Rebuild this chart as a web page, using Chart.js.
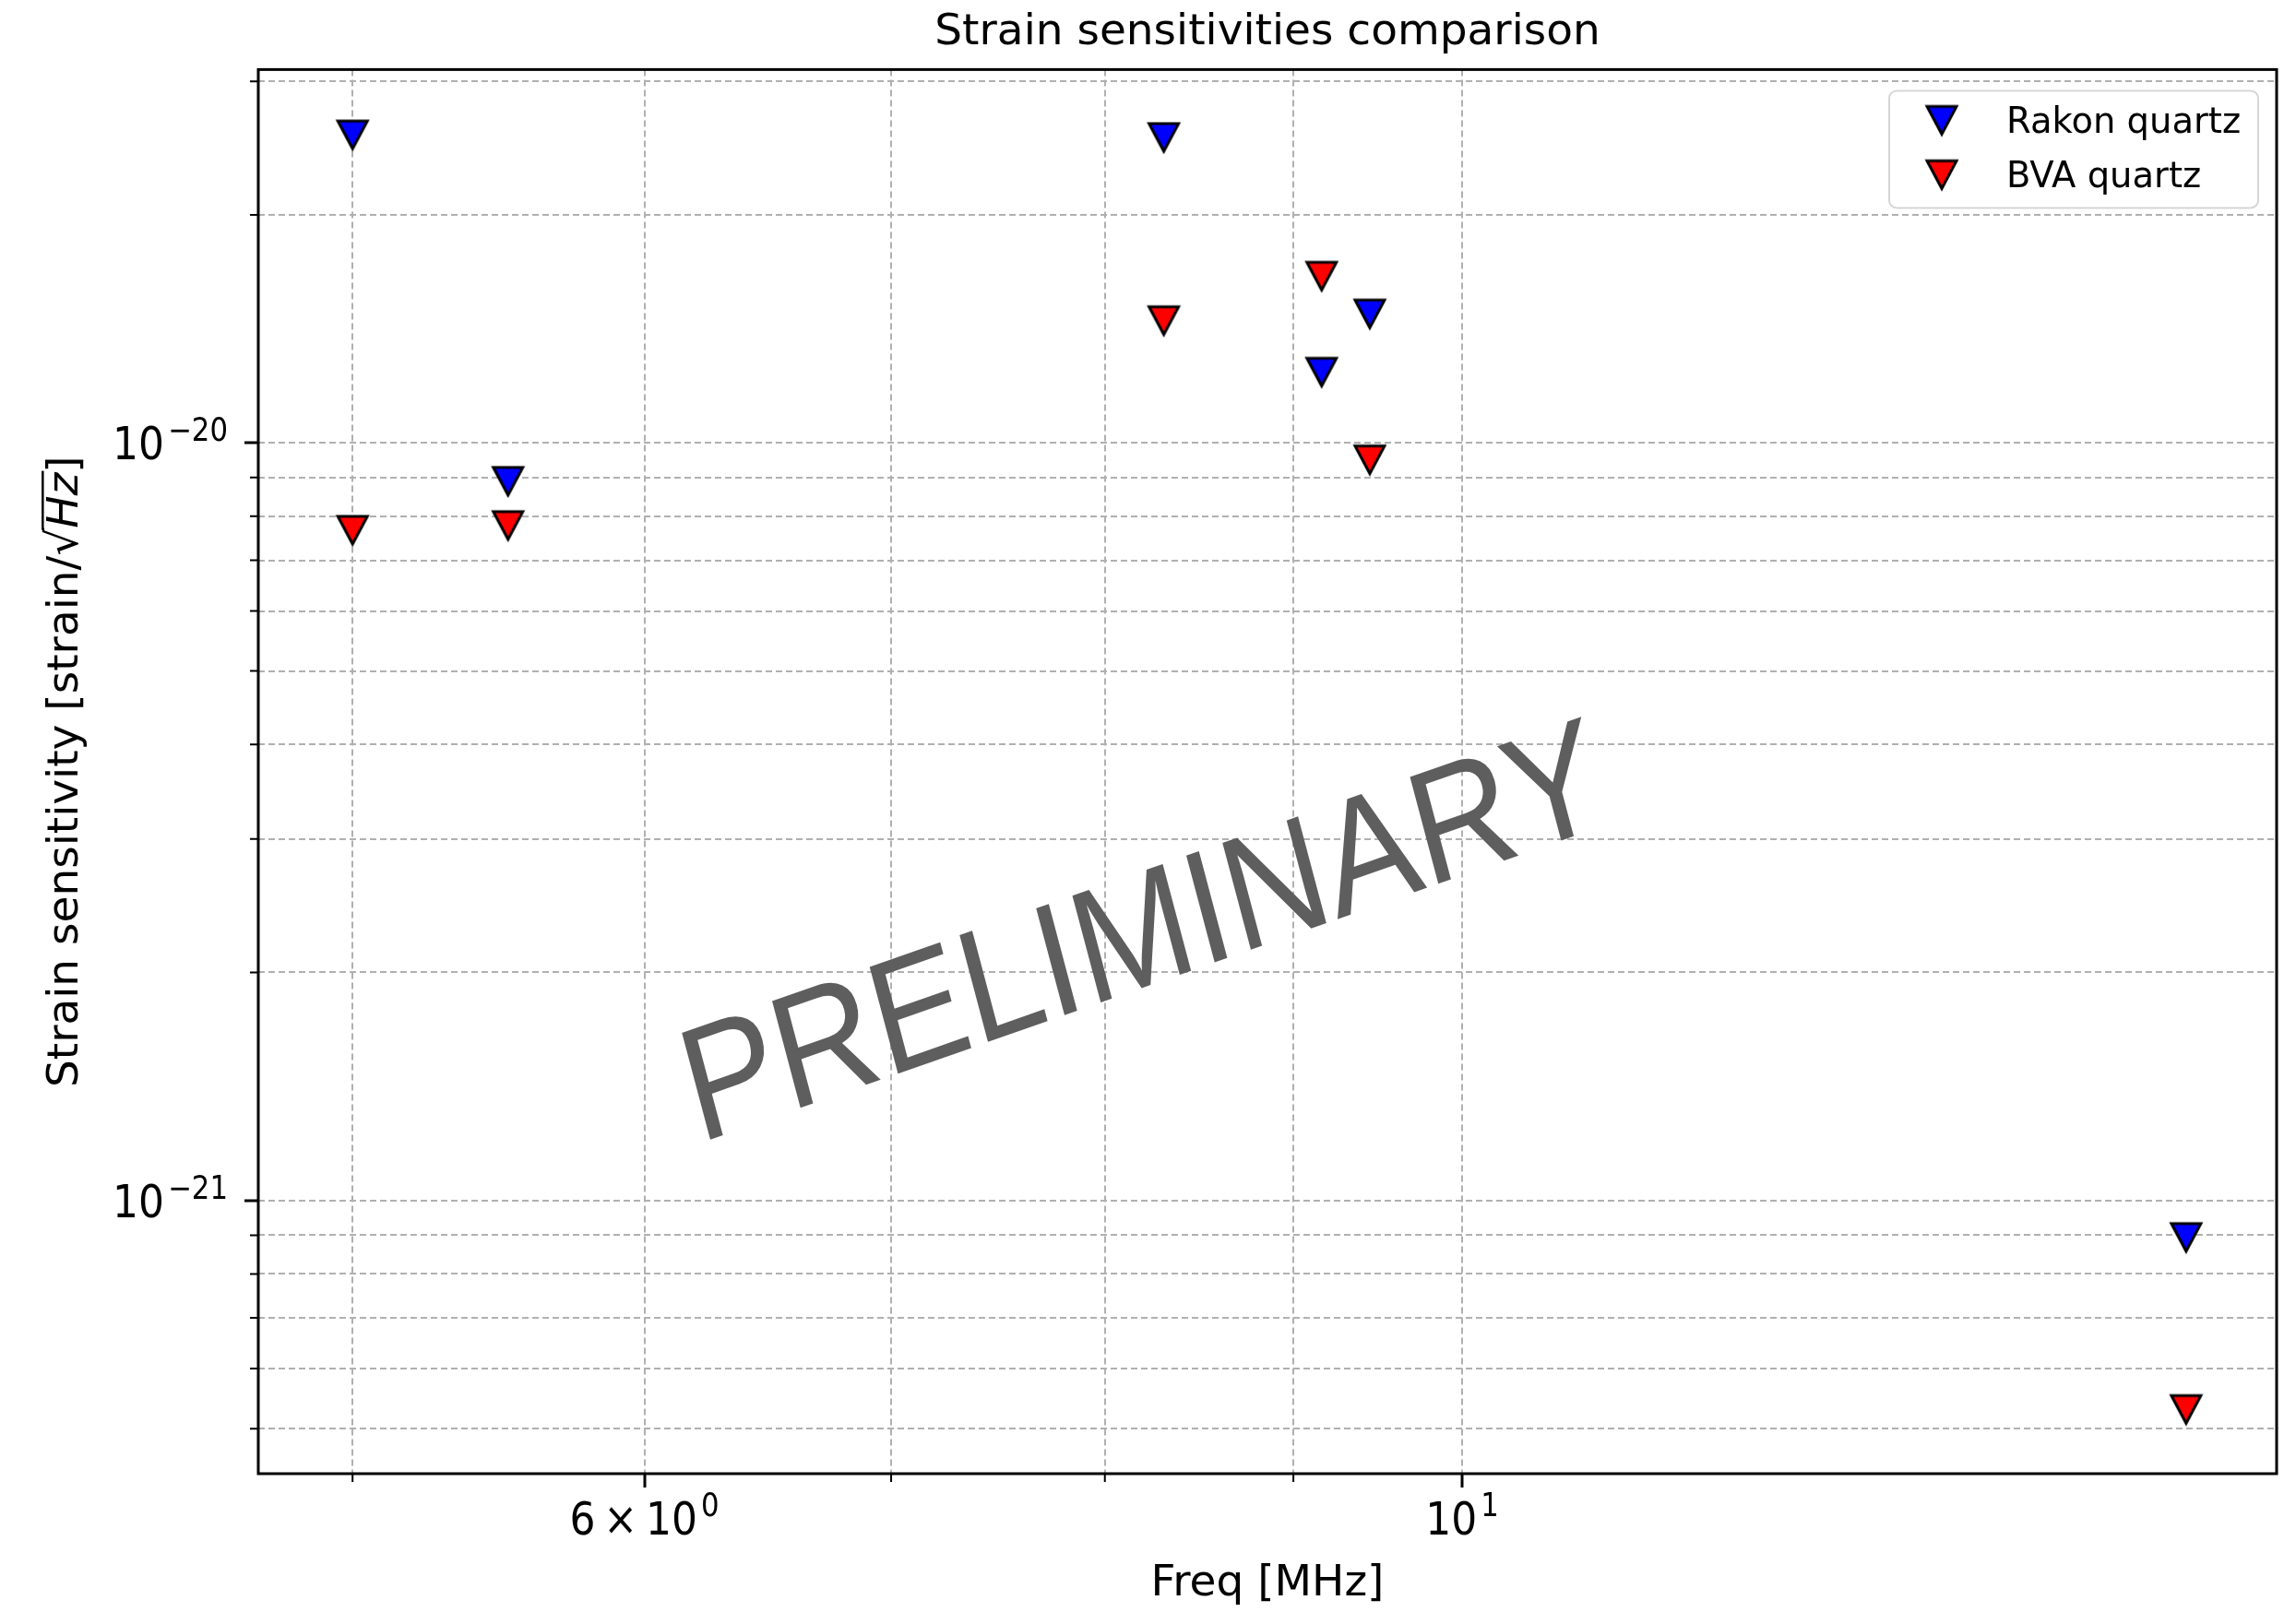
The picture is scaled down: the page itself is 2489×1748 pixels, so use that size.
<!DOCTYPE html>
<html lang="en">

<head>
    <meta charset="UTF-8">
    <title>Strain sensitivities comparison</title>
    <script src="https://cdn.jsdelivr.net/npm/chart.js"></script>
    <style>
        body { margin: 0; background: #fff; }
        canvas { display: block; }
    </style>
</head>

<body>
    <canvas id="strainChart" width="2489" height="1748"></canvas>

    <script>
        // Frequencies [MHz] and strain sensitivities [strain/sqrt(Hz)]
        const freqs = [5.0, 5.51, 8.3, 9.16, 9.44, 15.72];
        const rakon = [2.55e-20, 8.9e-21, 2.53e-20, 1.24e-20, 1.48e-20, 8.94e-22];
        const bva = [7.67e-21, 7.78e-21, 1.45e-20, 1.66e-20, 9.5e-21, 5.3e-22];

        const xRange = [4.714, 16.635];
        const yRange = [4.36e-22, 3.11e-20];
        const xTicks = [5, 6, 7, 8, 9, 10];
        const xTickBase = ['', '6\u2009×\u200910', '', '', '', '10'];
        const xTickExp = ['', '0', '', '', '', '1'];
        const yTicks = [5e-22, 6e-22, 7e-22, 8e-22, 9e-22, 1e-21, 2e-21, 3e-21, 4e-21, 5e-21,
            6e-21, 7e-21, 8e-21, 9e-21, 1e-20, 2e-20, 3e-20];
        const yTickBase = ['', '', '', '', '', '10', '', '', '', '', '', '', '', '', '10', '', ''];
        const yTickExp = ['', '', '', '', '', '−21', '', '', '', '', '', '', '', '', '−20', '', ''];

        const FONT = 'DejaVu Sans';
        Chart.defaults.font.family = FONT;
        Chart.defaults.color = '#000';

        // matplotlib-style 'v' marker with black edge
        function triangle(fill) {
            const c = document.createElement('canvas');
            c.width = 40; c.height = 40;
            const g = c.getContext('2d');
            g.beginPath();
            g.moveTo(4, 5); g.lineTo(36, 5); g.lineTo(20, 35); g.closePath();
            g.fillStyle = fill; g.fill();
            g.lineWidth = 3; g.lineJoin = 'miter'; g.strokeStyle = '#000'; g.stroke();
            return c;
        }
        const blueTri = triangle('#0000ff');
        const redTri = triangle('#ff0000');

        // "base^exp" label, squeezed a little horizontally like the original
        const SQ = 0.88;
        function powerLabel(ctx, base, exp, x, y, align) {
            ctx.font = `50px "${FONT}"`;
            const wb = ctx.measureText(base).width * SQ;
            ctx.font = `35px "${FONT}"`;
            const we = ctx.measureText(exp).width * SQ;
            const w = wb + 4 + we;
            const x0 = align === 'right' ? x - w : x - w / 2;
            ctx.save();
            ctx.translate(x0, y);
            ctx.scale(SQ, 1);
            ctx.textAlign = 'left';
            ctx.textBaseline = 'alphabetic';
            ctx.font = `50px "${FONT}"`;
            ctx.fillText(base, 0, 0);
            ctx.font = `35px "${FONT}"`;
            ctx.fillText(exp, (wb + 4) / SQ, -20);
            ctx.restore();
        }

        const overlay = {
            id: 'overlay',
            afterDraw(chart) {
                const { ctx, chartArea: a } = chart;
                const xs = chart.scales.x, ys = chart.scales.y;
                ctx.save();
                ctx.fillStyle = '#000';

                // short minor ticks and labels for the major ones
                ctx.strokeStyle = '#000'; ctx.lineWidth = 2;
                ctx.beginPath();
                xTicks.forEach((v, i) => {
                    const px = xs.getPixelForValue(v);
                    if (xTickBase[i]) {
                        powerLabel(ctx, xTickBase[i], xTickExp[i], px, a.bottom + 66, 'center');
                    } else {
                        ctx.moveTo(px, a.bottom); ctx.lineTo(px, a.bottom + 9);
                    }
                });
                yTicks.forEach((v, i) => {
                    const py = ys.getPixelForValue(v);
                    if (yTickBase[i]) {
                        powerLabel(ctx, yTickBase[i], yTickExp[i], a.left - 33, py + 18, 'right');
                    } else {
                        ctx.moveTo(a.left, py); ctx.lineTo(a.left - 9, py);
                    }
                });
                ctx.stroke();

                // watermark
                ctx.save();
                ctx.translate(a.left + 0.4374 * (a.right - a.left), a.top + 0.611 * (a.bottom - a.top));
                ctx.scale(0.87, 1);
                ctx.rotate(-17 * Math.PI / 180);
                ctx.font = '176px "Liberation Sans"';
                ctx.fillStyle = '#5e5e5e';
                ctx.textAlign = 'center';
                ctx.textBaseline = 'alphabetic';
                ctx.fillText('PRELIMINARY', 0, 63);
                ctx.restore();

                // axes frame
                ctx.lineWidth = 3; ctx.strokeStyle = '#000';
                ctx.strokeRect(a.left, a.top, a.right - a.left, a.bottom - a.top);

                // y-axis label with sqrt(Hz)
                const size = 47;
                const parts = [
                    { t: 'Strain sensitivity [strain/', f: `${size}px "${FONT}"` },
                    { t: '√', f: `${size}px "${FONT}"` },
                    { t: 'Hz', f: `italic ${size}px "${FONT}"`, bar: true },
                    { t: ']', f: `${size}px "${FONT}"` }
                ];
                let total = 0;
                parts.forEach(p => { ctx.font = p.f; p.w = ctx.measureText(p.t).width; total += p.w; });
                ctx.save();
                ctx.translate(67, (a.top + a.bottom) / 2);
                ctx.rotate(-Math.PI / 2);
                ctx.textAlign = 'left';
                ctx.textBaseline = 'alphabetic';
                let cx = -total / 2;
                const base = 0.36 * size;
                parts.forEach(p => {
                    ctx.font = p.f;
                    ctx.fillText(p.t, cx, base);
                    if (p.bar) {
                        ctx.lineWidth = 2.5;
                        ctx.beginPath();
                        ctx.moveTo(cx - 2, base - 0.8 * size);
                        ctx.lineTo(cx + p.w + 2, base - 0.8 * size);
                        ctx.stroke();
                    }
                    cx += p.w;
                });
                ctx.restore();

                // legend
                const lw = 400, lh = 127;
                const lx = a.right - 20 - lw, ly = a.top + 23;
                ctx.beginPath();
                ctx.roundRect(lx, ly, lw, lh, 8);
                ctx.fillStyle = 'rgba(255,255,255,0.8)';
                ctx.fill();
                ctx.lineWidth = 2; ctx.strokeStyle = '#d6d6d6';
                ctx.stroke();
                ctx.font = `38.5px "${FONT}"`;
                ctx.fillStyle = '#000';
                ctx.textBaseline = 'alphabetic';
                chart.data.datasets.forEach((ds, i) => {
                    const rowY = ly + 32 + i * 59;
                    ctx.drawImage(ds.pointStyle, lx + 57 - 20, rowY - 20);
                    ctx.fillText(ds.label, lx + 127, rowY + 14);
                });

                ctx.restore();
            }
        };

        const tickColor = base => c => (base[c.index] ? '#000' : 'rgba(0,0,0,0)');

        new Chart(document.getElementById('strainChart'), {
            type: 'scatter',
            data: {
                datasets: [
                    {
                        label: 'Rakon quartz',
                        data: freqs.map((f, i) => ({ x: f, y: rakon[i] })),
                        pointStyle: blueTri,
                        pointRadius: 18,
                        pointHoverRadius: 18
                    },
                    {
                        label: 'BVA quartz',
                        data: freqs.map((f, i) => ({ x: f, y: bva[i] })),
                        pointStyle: redTri,
                        pointRadius: 18,
                        pointHoverRadius: 18
                    }
                ]
            },
            options: {
                responsive: false,
                animation: false,
                events: [],
                layout: { padding: { left: 0, right: 21, top: 0, bottom: 0 } },
                scales: {
                    x: {
                        type: 'logarithmic',
                        min: xRange[0],
                        max: xRange[1],
                        afterBuildTicks: scale => { scale.ticks = xTicks.map(v => ({ value: v })); },
                        afterFit: scale => { scale.height = 150; },
                        ticks: { display: false, autoSkip: false, maxRotation: 0 },
                        grid: {
                            color: '#b0b0b0',
                            lineWidth: 2,
                            tickLength: 15,
                            tickWidth: 3,
                            tickColor: tickColor(xTickBase)
                        },
                        border: { display: false, dash: [7, 4] },
                        title: {
                            display: true,
                            text: 'Freq [MHz]',
                            font: { size: 47 },
                            padding: { top: 0, bottom: 2 }
                        }
                    },
                    y: {
                        type: 'logarithmic',
                        min: yRange[0],
                        max: yRange[1],
                        afterBuildTicks: scale => { scale.ticks = yTicks.map(v => ({ value: v })); },
                        afterFit: scale => { scale.width = 280; },
                        ticks: { display: false, autoSkip: false },
                        grid: {
                            color: '#b0b0b0',
                            lineWidth: 2,
                            tickLength: 15,
                            tickWidth: 3,
                            tickColor: tickColor(yTickBase)
                        },
                        border: { display: false, dash: [7, 4] },
                        title: { display: false }
                    }
                },
                plugins: {
                    legend: { display: false },
                    tooltip: { enabled: false },
                    title: {
                        display: true,
                        fullSize: false,
                        text: 'Strain sensitivities comparison',
                        font: { size: 47, weight: 'normal' },
                        color: '#000',
                        padding: { top: 8, bottom: 11 }
                    }
                }
            },
            plugins: [overlay]
        });
    </script>
</body>

</html>
